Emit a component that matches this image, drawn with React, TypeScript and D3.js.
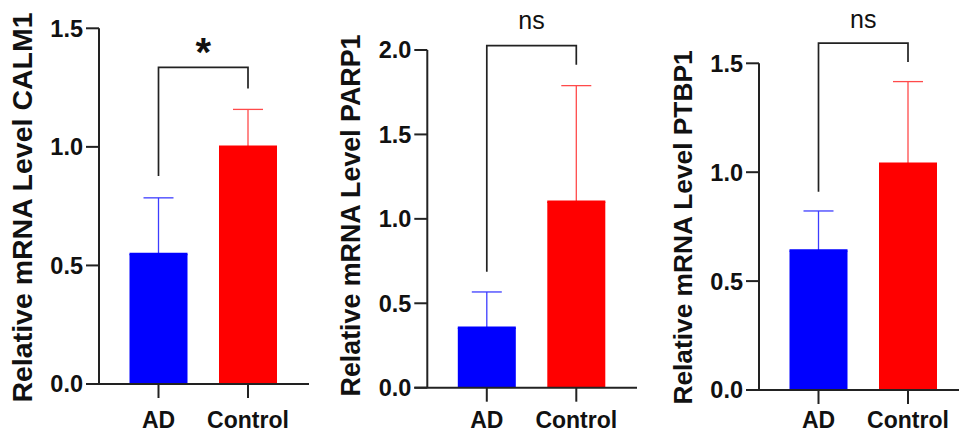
import * as d3 from "d3";

// groups on the x axis
const categories = ["AD", "Control"];
const colors = ["#0000ff", "#ff0000"];
const errColors = ["#3d3dff", "#ff4a4a"];

// genes, one panel each
const genes = ["CALM1", "PARP1", "PTBP1"];

// means and upper error bar ends (AD, Control)
const means = [
  [0.548, 1.0],
  [0.355, 1.102],
  [0.64, 1.039],
];
const errTops = [
  [0.785, 1.158],
  [0.567, 1.789],
  [0.822, 1.416],
];

// y axis ranges and tick labels
const yMax = [1.5, 2.0, 1.5];
const yTicks = [
  [0, 0.5, 1.0, 1.5],
  [0, 0.5, 1.0, 1.5, 2.0],
  [0, 0.5, 1.0, 1.5],
];

// significance brackets: top, AD leg end, Control leg end
const bracketTop = [1.335, 2.026, 1.593];
const bracketLegs = [
  [0.877, 1.246],
  [0.687, 1.912],
  [0.91, 1.506],
];
const sigLabels = ["*", "ns", "ns"];

// panel layout in pixels
const layout = [
  { axisX: 99, y0: 384, yTop: 28.3, axisEnd: 309, titleX: 32, titleY: 207.5, titleSize: 28.5, sigY: 66 },
  { axisX: 427.3, y0: 387.7, yTop: 50, axisEnd: 637, titleX: 360, titleY: 215.5, titleSize: 26.8, sigY: 28.5 },
  { axisX: 759, y0: 390, yTop: 63.3, axisEnd: 959, titleX: 691.7, titleY: 227.5, titleSize: 26.3, sigY: 28 },
];

const font = "'Liberation Sans', Arial, sans-serif";
const ink = "#222";
const barW = 58;
const capW = 30;

function Panel({ i }: { i: number }) {
  const L = layout[i];
  const y = d3.scaleLinear().domain([0, yMax[i]]).range([L.y0, L.yTop]);
  const x = d3.scalePoint<string>().domain(categories).range([L.axisX + 59.5, L.axisX + 149]);
  const fmt = d3.format(".1f");
  const [adX, ctX] = categories.map((c) => x(c) as number);
  const isStar = sigLabels[i] === "*";

  return (
    <g>
      {/* bars */}
      {categories.map((c, j) => (
        <g key={c}>
          <line x1={x(c)} x2={x(c)} y1={y(means[i][j])} y2={y(errTops[i][j])} stroke={errColors[j]} strokeWidth={1.3} />
          <line x1={(x(c) as number) - capW / 2} x2={(x(c) as number) + capW / 2} y1={y(errTops[i][j])} y2={y(errTops[i][j])} stroke={errColors[j]} strokeWidth={1.3} />
          <rect x={(x(c) as number) - barW / 2} y={y(means[i][j])} width={barW} height={L.y0 - y(means[i][j])} fill={colors[j]} />
          <line x1={(x(c) as number) - barW / 2} x2={(x(c) as number) + barW / 2} y1={y(means[i][j])} y2={y(means[i][j])} stroke={colors[j]} strokeWidth={2.5} />
        </g>
      ))}

      {/* y axis */}
      <line x1={L.axisX} x2={L.axisX} y1={y(yMax[i])} y2={L.y0} stroke={ink} strokeWidth={2} />
      {yTicks[i].map((t) => (
        <g key={t}>
          <line x1={L.axisX - 13} x2={L.axisX} y1={y(t)} y2={y(t)} stroke={ink} strokeWidth={2} />
          <text x={L.axisX - 16} y={y(t)} dy="0.36em" textAnchor="end" fontSize={23.5} fontWeight="bold" fontFamily={font} fill="#111">
            {fmt(t)}
          </text>
        </g>
      ))}

      {/* x axis */}
      <line x1={L.axisX - 13} x2={L.axisEnd} y1={L.y0} y2={L.y0} stroke={ink} strokeWidth={2} />
      {categories.map((c) => (
        <g key={c}>
          <line x1={x(c)} x2={x(c)} y1={L.y0} y2={L.y0 + 14} stroke={ink} strokeWidth={2} />
          <text x={x(c)} y={428} textAnchor="middle" fontSize={23} fontWeight="bold" fontFamily={font} fill="#111">
            {c}
          </text>
        </g>
      ))}

      {/* title */}
      <text
        transform={`translate(${L.titleX},${L.titleY}) rotate(-90)`}
        textAnchor="middle"
        fontSize={L.titleSize}
        fontWeight="bold"
        fontFamily={font}
        fill="#111"
      >
        {`Relative mRNA Level ${genes[i]}`}
      </text>

      {/* significance bracket */}
      <path
        d={`M${adX},${y(bracketLegs[i][0])}V${y(bracketTop[i])}H${ctX}V${y(bracketLegs[i][1])}`}
        fill="none"
        stroke={ink}
        strokeWidth={1.7}
      />
      <text
        x={(adX + ctX) / 2}
        y={L.sigY}
        textAnchor="middle"
        fontSize={isStar ? 40 : 25}
        fontWeight={isStar ? "bold" : "normal"}
        fontFamily={font}
        fill="#111"
      >
        {sigLabels[i]}
      </text>
    </g>
  );
}

export default function App() {
  return (
    <svg
      width={959}
      height={434}
      style={{ position: "fixed", left: 0, top: 0, background: "#fff" }}
    >
      {genes.map((g, i) => (
        <Panel key={g} i={i} />
      ))}
    </svg>
  );
}
